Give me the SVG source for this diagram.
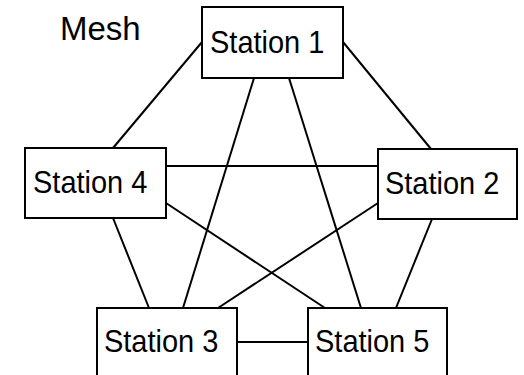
<svg xmlns="http://www.w3.org/2000/svg" width="524" height="375" viewBox="0 0 524 375">
<style>
.box{fill:#fff;stroke:#000;stroke-width:2}
.lbl{font-family:"Liberation Sans",Arial,sans-serif;font-size:29px;fill:#000}
.ttl{font-family:"Liberation Sans",Arial,sans-serif;font-size:33px;fill:#000}
.edge{stroke:#000;stroke-width:2;fill:none}
</style>
<rect width="524" height="375" fill="#fff"/>
<text class="ttl" x="60" y="40">Mesh</text>
<g id="connectors">
<line class="edge" x1="202" y1="42" x2="113" y2="148"/>
<line class="edge" x1="343" y1="42" x2="431" y2="149"/>
<line class="edge" x1="254" y1="78" x2="183" y2="308"/>
<line class="edge" x1="289" y1="78" x2="361" y2="308"/>
<line class="edge" x1="166" y1="166" x2="378" y2="166"/>
<line class="edge" x1="113" y1="218" x2="149" y2="308"/>
<line class="edge" x1="166" y1="203" x2="325" y2="308"/>
<line class="edge" x1="378" y1="203" x2="218" y2="308"/>
<line class="edge" x1="432" y1="219" x2="396" y2="308"/>
<line class="edge" x1="237" y1="342" x2="308" y2="342"/>
</g>
<g id="station1"><rect class="box" x="202" y="7" width="141" height="71"/><text class="lbl" x="210" y="53" transform="translate(0,53) scale(1,1.07) translate(0,-53)">Station 1</text></g>
<g id="station4"><rect class="box" x="25" y="148" width="141" height="70"/><text class="lbl" x="33" y="193" transform="translate(0,193) scale(1,1.07) translate(0,-193)">Station 4</text></g>
<g id="station2"><rect class="box" x="378" y="149" width="139" height="70"/><text class="lbl" x="385" y="194" transform="translate(0,194) scale(1,1.07) translate(0,-194)">Station 2</text></g>
<g id="station3"><rect class="box" x="97" y="308" width="140" height="71"/><text class="lbl" x="104" y="352" transform="translate(0,352) scale(1,1.07) translate(0,-352)">Station 3</text></g>
<g id="station5"><rect class="box" x="308" y="308" width="139" height="71"/><text class="lbl" x="315" y="352" transform="translate(0,352) scale(1,1.07) translate(0,-352)">Station 5</text></g>
</svg>
